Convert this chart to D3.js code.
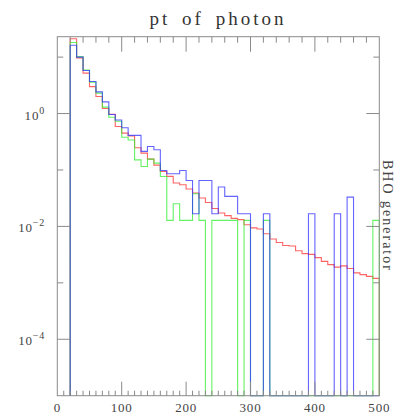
<!DOCTYPE html>
<html>
<head>
<meta charset="utf-8">
<script src="https://cdn.jsdelivr.net/npm/d3@7"></script>
<style>
  body { margin: 0; background: #fff; }
  text { font-family: "Liberation Serif", "Times New Roman", serif; }
</style>
</head>
<body>
<div id="chart"></div>
<script>
// lower bin edges (GeV), bins are 10 wide
const binLow = [20, 30, 40, 50, 60, 70, 80, 90, 100, 110, 120, 130, 140, 150, 160, 170,
    180, 190, 200, 210, 220, 230, 240, 250, 260, 270, 280, 290, 300, 310, 320, 330,
    340, 350, 360, 370, 380, 390, 400, 410, 420, 430, 440, 450, 460, 470, 480, 490];

const redVals = [21.2, 9.7, 5.2, 3.0, 2.0, 1.23, 0.97, 0.59, 0.45, 0.40, 0.247, 0.199, 0.156, 0.122, 0.094, 0.077,
    0.0586, 0.0547, 0.0459, 0.039, 0.0318, 0.0266, 0.0208, 0.0173, 0.0155, 0.0139, 0.0132, 0.0107, 0.0094, 0.0090, 0.0074, 0.0060,
    0.0052, 0.0046, 0.0045, 0.0037, 0.0033, 0.0032, 0.0028, 0.0024, 0.0021, 0.0019, 0.0020, 0.0018, 0.0015, 0.0014, 0.0013, 0.0012];

const greenVals = [18.1, 10.2, 5.9, 3.6, 2.3, 1.30, 0.86, 0.73, 0.38, 0.34, 0.151, 0.115, 0.156, 0.132, 0.0767, 0.0128,
    0.0252, 0.0128, 0.0128, 0.038, 0.0128, 0, 0.0128, 0.0128, 0.0128, 0.0128, 0, 0.0128, 0, 0, 0.0128, 0,
    0, 0, 0, 0, 0, 0, 0, 0, 0, 0, 0, 0, 0, 0, 0, 0.0128];

const blueVals = [16.2, 10.0, 5.8, 3.7, 2.42, 1.61, 0.96, 0.77, 0.56, 0.41, 0.41, 0.214, 0.26, 0.228, 0.098, 0.0857,
    0.0857, 0.098, 0.065, 0.0168, 0.065, 0.065, 0.0168, 0.0498, 0.034, 0.034, 0.0168, 0.0168, 0, 0, 0.0168, 0,
    0, 0, 0, 0, 0, 0.0168, 0, 0, 0, 0.0168, 0, 0.033, 0, 0, 0, 0];

const binWidth = 10;
const xTicksLabelled = [0, 100, 200, 300, 400, 500];
const yTicksLabelled = [0, -2, -4];   // exponents
const yTicksMinor = [1, -1, -3];

const chartWidth = 394;
const chartHeight = 414;
const plotLeft = 57.3, plotRight = 379.3, plotTop = 36.7, plotBottom = 395.7;

const xScale = d3.scaleLinear()
    .domain([0, 500])
    .range([plotLeft, plotRight]);

const yScale = d3.scaleLog()
    .domain([1e-5, 23])
    .range([plotBottom, plotTop]);

const svg = d3.select('#chart')
    .append('svg')
    .attr('width', chartWidth)
    .attr('height', chartHeight);

const frameColor = '#8a8a8a';

// histograms as step lines
function stepPath(vals) {
    const yv = v => v > 0 ? yScale(v) : plotBottom;
    let d = 'M' + xScale(binLow[0]) + ',' + plotBottom;
    vals.forEach((v, i) => {
        d += 'L' + xScale(binLow[i]) + ',' + yv(v);
        d += 'L' + xScale(binLow[i] + binWidth) + ',' + yv(v);
    });
    d += 'L' + xScale(binLow[binLow.length - 1] + binWidth) + ',' + plotBottom;
    return d;
}

const series = [
    {vals: redVals, color: '#ff3030'},
    {vals: greenVals, color: '#30ee30'},
    {vals: blueVals, color: '#3030ff'}
];

svg.append('g')
    .selectAll('path')
    .data(series)
    .enter()
    .append('path')
    .attr('d', d => stepPath(d.vals))
    .attr('fill', 'none')
    .attr('stroke', d => d.color)
    .attr('stroke-width', 1.1)
    .attr('stroke-opacity', 0.75);

// frame
svg.append('rect')
    .attr('x', plotLeft)
    .attr('y', plotTop)
    .attr('width', plotRight - plotLeft)
    .attr('height', plotBottom - plotTop)
    .attr('fill', 'none')
    .attr('stroke', frameColor)
    .attr('stroke-width', 1);

// x axis ticks: bottom every 10, top every 20, long at 100s
const xt = svg.append('g').attr('stroke', frameColor).attr('stroke-width', 1);
d3.range(10, 500, 10).forEach(v => {
    const x = xScale(v);
    const major = v % 100 === 0;
    xt.append('line')
        .attr('x1', x).attr('x2', x)
        .attr('y1', plotBottom).attr('y2', plotBottom - (major ? 14 : 5));
    if (v % 20 === 0) {
        xt.append('line')
            .attr('x1', x).attr('x2', x)
            .attr('y1', plotTop).attr('y2', plotTop + (major ? 15 : 6));
    }
});

// y axis ticks, both sides
yTicksLabelled.concat(yTicksMinor).forEach(e => {
    const y = yScale(Math.pow(10, e));
    const len = yTicksLabelled.includes(e) ? 13 : 6;
    xt.append('line').attr('x1', plotLeft).attr('x2', plotLeft + len).attr('y1', y).attr('y2', y);
    xt.append('line').attr('x1', plotRight).attr('x2', plotRight - len).attr('y1', y).attr('y2', y);
});

// x labels
svg.append('g')
    .selectAll('text')
    .data(xTicksLabelled)
    .enter()
    .append('text')
    .attr('x', d => xScale(d))
    .attr('y', 412)
    .attr('text-anchor', 'middle')
    .attr('font-size', 13)
    .attr('letter-spacing', 0.8)
    .attr('fill', '#444')
    .text(d => d);

// y labels 10^n
const yl = svg.append('g')
    .selectAll('text')
    .data(yTicksLabelled)
    .enter()
    .append('text')
    .attr('x', 45)
    .attr('y', d => yScale(Math.pow(10, d)) + 6)
    .attr('text-anchor', 'end')
    .attr('font-size', 13)
    .attr('letter-spacing', 0.8)
    .attr('fill', '#444');
yl.append('tspan').text('10');
yl.append('tspan')
    .attr('dy', -6)
    .attr('font-size', 10)
    .text(d => d < 0 ? '\u2212' + (-d) : d);

// title
svg.append('text')
    .attr('x', 218)
    .attr('y', 25)
    .attr('text-anchor', 'middle')
    .attr('font-size', 19)
    .attr('letter-spacing', 3)
    .attr('word-spacing', 4)
    .attr('fill', '#333')
    .text('pt of photon');

// side label
svg.append('text')
    .attr('transform', 'translate(383,160) rotate(90)')
    .attr('font-size', 14)
    .attr('letter-spacing', 2)
    .attr('fill', '#444')
    .text('BHO generator');
</script>
</body>
</html>
